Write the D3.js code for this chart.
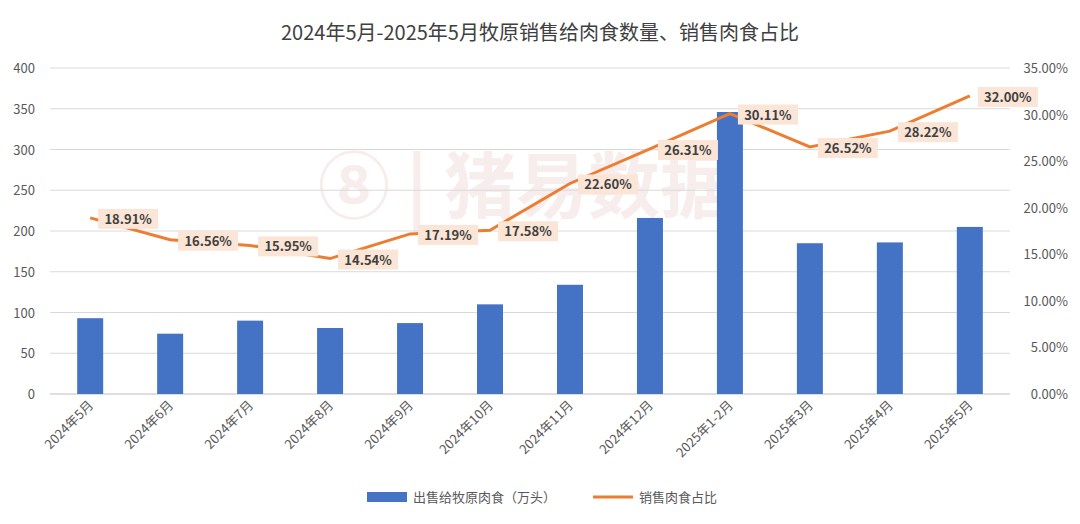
<!DOCTYPE html>
<html><head><meta charset="utf-8">
<script src="https://cdn.jsdelivr.net/npm/d3@7"></script>
<style>body{margin:0;background:#fff;font-family:"Noto Sans CJK SC","Noto Sans",sans-serif}</style>
</head><body><svg id="c" width="1080" height="524"></svg>
<script>
const categories=["2024年5月","2024年6月","2024年7月","2024年8月","2024年9月","2024年10月","2024年11月","2024年12月","2025年1-2月","2025年3月","2025年4月","2025年5月"];
const meatSales=[93,74,90,81,87,110,134,216,346,185,186,205];
const meatShare=[18.91,16.56,15.95,14.54,17.19,17.58,22.60,26.31,30.11,26.52,28.22,32.00];
const leftTicks=[0,50,100,150,200,250,300,350,400];
const rightTicks=[0,5,10,15,20,25,30,35];
const svg=d3.select("#c");
const L=50,R=1010,T=68,B=394;
const x=d3.scaleBand().domain(categories).range([L,R]).paddingInner(0.675).paddingOuter(0.34);
const y=d3.scaleLinear().domain([0,400]).range([B,T]);
const y2=d3.scaleLinear().domain([0,35]).range([B,T]);
svg.append("text").attr("x",540).attr("y",40).attr("text-anchor","middle").attr("font-size",20).attr("fill","#404040").text("2024年5月-2025年5月牧原销售给肉食数量、销售肉食占比");
svg.append("text").attr("x",525).attr("y",212).attr("text-anchor","middle").attr("font-size",72).attr("font-weight","bold").attr("fill","#f7eded").text("⑧ | 猪易数据");
const gl=svg.append("g");
leftTicks.forEach(t=>{gl.append("line").attr("x1",L).attr("x2",R).attr("y1",y(t)).attr("y2",y(t)).attr("stroke",t===0?"#bfbfbf":"#d9d9d9");
 gl.append("text").attr("x",35).attr("y",y(t)+5).attr("text-anchor","end").attr("font-size",13).attr("fill","#595959").text(t);});
rightTicks.forEach(t=>svg.append("text").attr("x",1068).attr("y",y2(t)+5).attr("text-anchor","end").attr("font-size",13).attr("fill","#595959").text(t.toFixed(2)+"%"));
svg.selectAll("rect.b").data(meatSales).enter().append("rect").attr("x",(d,i)=>x(categories[i])).attr("width",x.bandwidth()).attr("y",d=>y(d)).attr("height",d=>B-y(d)).attr("fill","#4472c4");
const cx=i=>x(categories[i])+x.bandwidth()/2;
svg.append("path").datum(meatShare).attr("d",d3.line().x((d,i)=>cx(i)).y(d=>y2(d))).attr("fill","none").attr("stroke","#ed7d31").attr("stroke-width",3);
meatShare.forEach((d,i)=>{
 const tx=cx(i)+38, ty=y2(d)+5;
 svg.append("rect").attr("x",tx-30).attr("y",ty-14).attr("width",60).attr("height",20).attr("fill","#fbe5d6");
 svg.append("text").attr("x",tx).attr("y",ty+1).attr("text-anchor","middle").attr("font-size",13).attr("font-weight","bold").attr("fill","#404040").text(d.toFixed(2)+"%");
});
categories.forEach((c,i)=>svg.append("text").attr("transform",`translate(${cx(i)+4},${B+12}) rotate(-45)`).attr("text-anchor","end").attr("font-size",13).attr("fill","#595959").text(c));
svg.append("rect").attr("x",367).attr("y",492).attr("width",40).attr("height",10).attr("fill","#4472c4");
svg.append("text").attr("x",413).attr("y",502).attr("font-size",13).attr("fill","#595959").text("出售给牧原肉食（万头）");
svg.append("line").attr("x1",593).attr("x2",633).attr("y1",497).attr("y2",497).attr("stroke","#ed7d31").attr("stroke-width",3);
svg.append("text").attr("x",639).attr("y",502).attr("font-size",13).attr("fill","#595959").text("销售肉食占比");
</script></body></html>
